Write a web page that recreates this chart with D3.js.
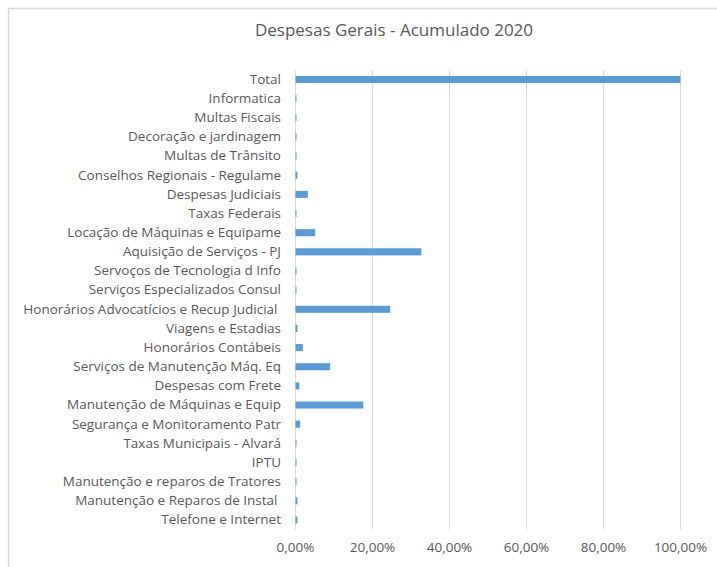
<!DOCTYPE html>
<html>
<head>
<meta charset="utf-8">
<script src="https://cdn.jsdelivr.net/npm/d3@7"></script>
<style>
  body { margin: 0; background: #fff; }
  text { font-family: "Open Sans", "Noto Sans", sans-serif; fill: #595959; white-space: pre; }
</style>
</head>
<body>
<script>
// categories, top to bottom
var categories = [
  "Total",
  "Informatica",
  "Multas Fiscais",
  "Decoração e jardinagem",
  "Multas de Trânsito",
  "Conselhos Regionais - Regulame",
  "Despesas Judiciais",
  "Taxas Federais",
  "Locação de Máquinas e Equipame",
  "Aquisição de Serviços - PJ",
  "Servoços de Tecnologia d Info",
  "Serviços Especializados Consul",
  "Honorários Advocatícios e Recup Judicial ",
  "Viagens e Estadias",
  "Honorários Contábeis",
  "Serviços de Manutenção Máq. Eq",
  "Despesas com Frete",
  "Manutenção de Máquinas e Equip",
  "Segurança e Monitoramento Patr",
  "Taxas Municipais - Alvará",
  "IPTU",
  "Manutenção e reparos de Tratores",
  "Manutenção e Reparos de Instal ",
  "Telefone e Internet"
]
// share of total, in %
var values = [100, 0.2, 0.2, 0.2, 0.2, 0.5, 3.2, 0.2, 5.1, 32.7, 0.2, 0.2,
  24.6, 0.5, 1.9, 9.0, 1.0, 17.6, 1.2, 0.2, 0.2, 0.2, 0.5, 0.5]
var ticks = [0, 20, 40, 60, 80, 100]
var title = "Despesas Gerais - Acumulado 2020"

var data = categories.map(function(c, i) { return {name: c, value: values[i]} })

const width = 717, height = 567
const margin = {top: 70, left: 295, right: 37, bottom: 37.6}

var svg = d3.select("body").append("svg")
  .attr("width", width)
  .attr("height", height)

// chart frame (right and bottom edges are outside the picture)
svg.append("rect")
  .attr("x", 8.5).attr("y", 8.5)
  .attr("width", width + 20).attr("height", height + 20)
  .attr("fill", "none")
  .attr("stroke", "#d9d9d9")
  .attr("stroke-width", 1.5)

svg.append("text")
  .attr("x", 394).attr("y", 36)
  .attr("text-anchor", "middle")
  .style("font-size", "17px")
  .text(title)

var x = d3.scaleLinear()
  .domain([0, 100])
  .range([margin.left, width - margin.right])

var y = d3.scaleBand()
  .domain(categories)
  .range([margin.top, height - margin.bottom])
  .paddingInner(0.63)
  .paddingOuter(0.31)

// gridlines
svg.append("g")
  .selectAll("line")
  .data(ticks)
  .enter()
  .append("line")
  .attr("x1", function(d) { return Math.round(x(d)) + 0.5 })
  .attr("x2", function(d) { return Math.round(x(d)) + 0.5 })
  .attr("y1", margin.top)
  .attr("y2", height - margin.bottom)
  .attr("stroke", "#d9d9d9")

// bars
svg.append("g")
  .selectAll("rect")
  .data(data)
  .enter()
  .append("rect")
  .attr("x", x(0) + 0.5)
  .attr("y", function(d) { return y(d.name) })
  .attr("width", function(d) { return Math.max(1, x(d.value) - x(0)) })
  .attr("height", y.bandwidth())
  .attr("fill", "#5b9bd5")

// category labels
var yAxis = d3.axisLeft(y).tickSize(0).tickPadding(14)
var gy = svg.append("g")
  .attr("transform", "translate(" + margin.left + ",0)")
  .call(yAxis)
gy.select(".domain").remove()
gy.selectAll("text")
  .style("font-size", "13.5px")
  .style("fill", "#595959")

// value axis
var xAxis = d3.axisBottom(x)
  .tickValues(ticks)
  .tickSize(0)
  .tickPadding(13)
  .tickFormat(function(d) { return d3.format(".2f")(d).replace(".", ",") + "%" })
var gx = svg.append("g")
  .attr("transform", "translate(0," + (height - margin.bottom) + ")")
  .call(xAxis)
gx.select(".domain").remove()
gx.selectAll("text")
  .style("font-size", "13.5px")
  .style("fill", "#595959")
</script>
</body>
</html>
